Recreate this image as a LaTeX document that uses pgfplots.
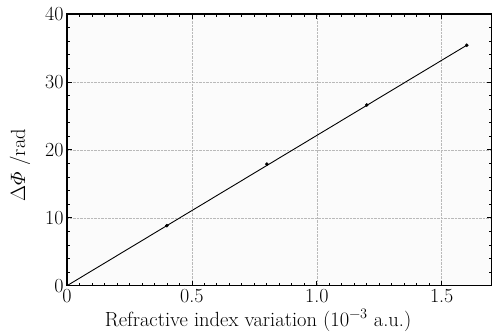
\documentclass[border=0pt]{standalone}
\usepackage{fontspec}
\usepackage{pgfplots}
\pgfplotsset{compat=1.18}
\usetikzlibrary{calc}
\begin{document}
\begin{tikzpicture}
\begin{axis}[
  scale only axis, width=424.7pt, height=271.7pt,
  xmin=0, xmax=1.7, ymin=0, ymax=40,
  xtick={0,0.5,1,1.5}, xticklabels={0,0.5,1.0,1.5},
  ytick={0,10,20,30,40},
  /pgf/number format/assume math mode=true,
  minor x tick num=9, minor y tick num=4,
  tick align=inside, major tick length=5pt, minor tick length=3pt,
  tick style={black, line width=0.8pt},
  grid=major, grid style={densely dotted, gray!55, line width=0.5pt},
  axis line style={line width=1.1pt},
  axis background/.style={fill=black!1.5},
  tick label style={font=\fontsize{20}{22}\selectfont},
  label style={font=\fontsize{20.5}{23}\selectfont},
  xlabel={Refractive index variation (10\textsuperscript{−3} a.u.)},
  ylabel={$\Delta\mathnormal{\Phi}$ /rad},
  xlabel style={at={(axis description cs:0.45,0)}, anchor=north, yshift=-20pt},
  ylabel style={at={(axis description cs:0,0.444)}, anchor=center, yshift=47pt},
]
\addplot[black, line width=0.9pt, no markers] coordinates {(0,0) (1.6,35.4)};
\addplot[only marks, mark=*, mark size=1.6pt, black] coordinates {
(0.4,8.84) (0.8,17.9) (1.2,26.6) (1.6,35.4)};
\end{axis}
\path ($(current axis.south west)+(-67pt,-48.3pt)$) rectangle ($(current axis.north east)+(11.3pt,14pt)$);
\end{tikzpicture}
\end{document}
